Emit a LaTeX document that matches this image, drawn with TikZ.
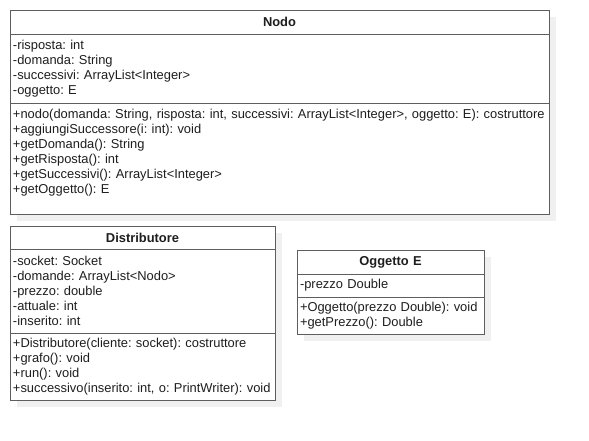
\documentclass[tikz,border=0pt]{standalone}
\usepackage{fontspec}
\setmainfont{Liberation Sans}
\usetikzlibrary{positioning,shadows}
\definecolor{umlline}{HTML}{5E5E5E}
\definecolor{umlshadow}{HTML}{F0F0F0}
\definecolor{umltext}{HTML}{1E1E1E}
\newcommand{\umlfont}{\fontsize{12.9bp}{15bp}\selectfont\frenchspacing\hyphenpenalty=10000\relax}

\tikzset{
  umlpart/.style={draw=umlline, fill=white, line width=0.9bp, outer sep=0pt,
    inner xsep=3bp, inner ysep=0pt, text width=#1, align=left,
    font=\umlfont, text=umltext,
    general shadow={fill=umlshadow, shadow xshift=7bp, shadow yshift=-7bp}},
  umlname/.style={umlpart=#1, align=center, font=\umlfont\bfseries},
}

\begin{document}
\begin{tikzpicture}[x=1bp,y=-1bp]
  \useasboundingbox (0,0) rectangle (589,441);

  % Nodo
  \node[umlname=533bp, minimum height=24bp, anchor=north] (nodo-name) at (279.5,10) {Nodo};
  \node[umlpart=533bp, minimum height=69bp, below=0pt of nodo-name] (nodo-attr)
    {-risposta: int\\-domanda: String\\-successivi: ArrayList<Integer>\\-oggetto: E};
  \node[umlpart=533bp, minimum height=111bp, below=0pt of nodo-attr] (nodo-ops)
    {+nodo(domanda: String, risposta: int, successivi: ArrayList<Integer>, oggetto: E): costruttore\\
     +aggiungiSuccessore(i: int): void\\+getDomanda(): String\\+getRisposta(): int\\
     +getSuccessivi(): ArrayList<Integer>\\+getOggetto(): E\\~};

  % Distributore
  \node[umlname=259bp, minimum height=23bp, anchor=north] (distr-name) at (142.5,226) {Distributore};
  \node[umlpart=259bp, minimum height=84bp, below=0pt of distr-name] (distr-attr)
    {-socket: Socket\\-domande: ArrayList<Nodo>\\-prezzo: double\\-attuale: int\\-inserito: int};
  \node[umlpart=259bp, minimum height=67bp, below=0pt of distr-attr] (distr-ops)
    {+Distributore(cliente: socket): costruttore\\+grafo(): void\\+run(): void\\
     +successivo(inserito: int, o: PrintWriter): void};

  % Oggetto E
  \node[umlname=181bp, minimum height=24bp, anchor=north] (ogg-name) at (390.5,250) {Oggetto E};
  \node[umlpart=181bp, minimum height=23bp, below=0pt of ogg-name] (ogg-attr)
    {-prezzo Double};
  \node[umlpart=181bp, minimum height=37bp, below=0pt of ogg-attr] (ogg-ops)
    {+Oggetto(prezzo Double): void\\+getPrezzo(): Double};
\end{tikzpicture}
\end{document}
